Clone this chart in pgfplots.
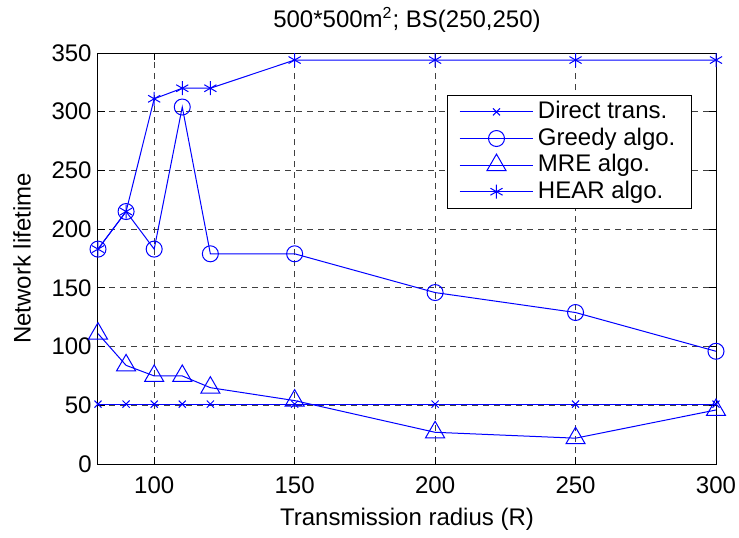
\documentclass[border=0pt]{standalone}
\usepackage{pgfplots}
\pgfplotsset{compat=1.18}
\usepackage{fontspec}
\setmainfont{Liberation Sans}
\definecolor{mblue}{RGB}{0,0,255}
\newcommand{\lbl}{\fontsize{12}{14}\selectfont}
\begin{document}
\lbl
\begin{tikzpicture}
\begin{axis}[
  name=main,
  scale only axis,
  width=309pt, height=205.5pt,
  xmin=80, xmax=300, ymin=0, ymax=350,
  xtick={100,150,...,300},
  ytick={0,50,...,350},
  /pgf/number format/assume math mode=true,
  ticklabel style={font=\lbl},
  xticklabel style={yshift=-2pt},
  yticklabel style={xshift=1pt},
  tick align=inside,
  major tick length=3.5pt,
  tick style={black, line width=0.5pt},
  axis line style={black, line width=0.5pt},
  grid=major,
  major grid style={black!75, line width=0.5pt, dash pattern=on 3pt off 2.5pt},
  xlabel={Transmission radius (R)},
  ylabel={Network lifetime},
  title={500*500m\textsuperscript{2}; BS(250,250)},
  every axis title/.style={at={(axis description cs:0.5,1)}, yshift=16.5pt, anchor=center, font=\lbl},
  every axis x label/.style={at={(axis description cs:0.5,0)}, yshift=-27.5pt, anchor=center, font=\lbl},
  every axis y label/.style={at={(axis description cs:0,0.5)}, xshift=-38pt, rotate=90, anchor=center, font=\lbl},
  legend style={
    at={(rel axis cs:0.961,0.898)}, anchor=north east,
    draw=black, line width=0.5pt, font=\lbl,
    row sep=-1.2pt, inner xsep=6pt, inner ysep=1pt,
    cells={anchor=west}
  },
  legend image code/.code={
    \draw[#1] (0cm,0cm) -- (1.3cm,0cm);
    \draw[#1, only marks] plot coordinates {(0.65cm,0cm)};
  },
]
\addplot[mblue, line width=0.5pt, mark=x, mark size=2.5pt, mark options={solid}] coordinates {
  (80,51) (90,51) (100,51) (110,51) (120,51) (150,51) (200,51) (250,51) (300,51)};
\addlegendentry{Direct trans.}
\addplot[mblue, line width=0.5pt, mark=o, mark size=4pt, mark options={solid}] coordinates {
  (80,183) (90,215) (100,183) (110,304) (120,179) (150,179) (200,146) (250,129) (300,96)};
\addlegendentry{Greedy algo.}
\addplot[mblue, line width=0.5pt, mark=triangle, mark size=5.5pt, mark options={solid}] coordinates {
  (80,111) (90,84) (100,75) (110,75) (120,65) (150,54) (200,27) (250,22) (300,46)};
\addlegendentry{MRE algo.}
\addplot[mblue, line width=0.5pt, mark=asterisk, mark size=3.5pt, mark options={solid}] coordinates {
  (80,183) (90,215) (100,311) (110,320) (120,320) (150,344) (200,344) (250,344) (300,344)};
\addlegendentry{HEAR algo.}
\end{axis}
\pgfresetboundingbox
\path[use as bounding box] ([shift={(-49pt,-36.5pt)}]main.south west) rectangle ([shift={(11.5pt,26.5pt)}]main.north east);
\end{tikzpicture}
\end{document}
